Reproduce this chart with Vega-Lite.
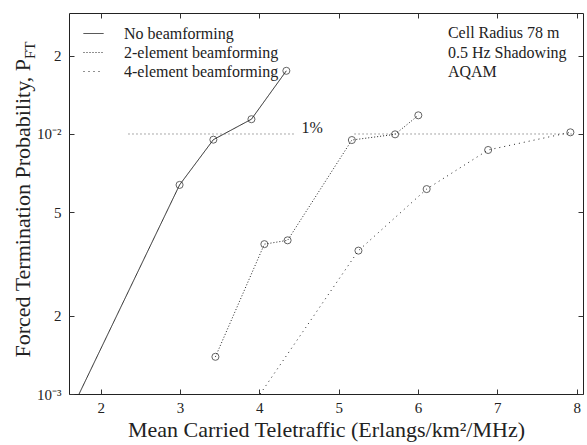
{
  "$schema": "https://vega.github.io/schema/vega-lite/v6.json",
  "width": 514,
  "height": 381,
  "autosize": {"type": "none"},
  "padding": {"left": 69, "top": 13, "right": 4, "bottom": 51},
  "background": "white",
  "config": {
    "font": "Liberation Serif",
    "view": {"stroke": "#222", "strokeWidth": 1},
    "axis": {
      "domain": false, "grid": false, "tickColor": "#333", "tickWidth": 1,
      "labelColor": "#222", "titleColor": "#222",
      "labelFont": "Liberation Serif", "titleFont": "Liberation Serif",
      "titleFontWeight": "normal", "labelFontSize": 15, "titleFontSize": 22
    }
  },
  "datasets": {
    "series": [
      {"s": "No beamforming", "x": 1.727, "y": 0.001, "m": 0},
      {"s": "No beamforming", "x": 2.994, "y": 0.00637, "m": 1},
      {"s": "No beamforming", "x": 3.42, "y": 0.00951, "m": 1},
      {"s": "No beamforming", "x": 3.90, "y": 0.0114, "m": 1},
      {"s": "No beamforming", "x": 4.34, "y": 0.0175, "m": 1},
      {"s": "2-element beamforming", "x": 3.446, "y": 0.00139, "m": 1},
      {"s": "2-element beamforming", "x": 4.063, "y": 0.00377, "m": 1},
      {"s": "2-element beamforming", "x": 4.356, "y": 0.0039, "m": 1},
      {"s": "2-element beamforming", "x": 5.166, "y": 0.00948, "m": 1},
      {"s": "2-element beamforming", "x": 5.711, "y": 0.00997, "m": 1},
      {"s": "2-element beamforming", "x": 6.004, "y": 0.0118, "m": 1},
      {"s": "4-element beamforming", "x": 4.01, "y": 0.001, "m": 0},
      {"s": "4-element beamforming", "x": 5.249, "y": 0.00356, "m": 1},
      {"s": "4-element beamforming", "x": 6.109, "y": 0.00614, "m": 1},
      {"s": "4-element beamforming", "x": 6.884, "y": 0.00868, "m": 1},
      {"s": "4-element beamforming", "x": 7.921, "y": 0.01015, "m": 1}
    ],
    "onepct": [
      {"x1": 2.35, "x2": 4.45, "y": 0.01},
      {"x1": 5.2, "x2": 7.95, "y": 0.01}
    ]
  },
  "layer": [
    {
      "data": {"name": "onepct"},
      "mark": {"type": "rule", "color": "#555", "strokeWidth": 1, "strokeDash": [1, 3]},
      "encoding": {
        "x": {"field": "x1", "type": "quantitative", "scale": {"domain": [1.6, 8.08], "nice": false, "zero": false}, "axis": null},
        "x2": {"field": "x2"},
        "y": {"field": "y", "type": "quantitative", "scale": {"type": "log", "domain": [0.001, 0.0292], "nice": false}, "axis": null}
      }
    },
    {
      "data": {"name": "series"},
      "mark": {"type": "line", "color": "#222", "strokeWidth": 1},
      "encoding": {
        "x": {
          "field": "x", "type": "quantitative",
          "axis": {
            "orient": "bottom", "values": [2, 3, 4, 5, 6, 7, 8], "format": "d",
            "offset": -5, "tickSize": 5, "labelPadding": 6,
            "title": "Mean Carried Teletraffic (Erlangs/km²/MHz)",
            "titleBaseline": "middle", "titleY": 40
          }
        },
        "y": {
          "field": "y", "type": "quantitative",
          "axis": {
            "orient": "left", "values": [0.001, 0.002, 0.005, 0.01, 0.02],
            "labelExpr": "datum.value < 0.0015 ? '10⁻³' : datum.value < 0.003 ? '2' : datum.value < 0.007 ? '5' : datum.value < 0.015 ? '10⁻²' : '2'",
            "offset": -5, "tickSize": 5, "labelPadding": 8,
            "title": "Forced Termination Probability, P",
            "titleAngle": 270, "titleAlign": "left", "titleBaseline": "middle",
            "titleX": -52, "titleY": 344
          }
        },
        "strokeDash": {
          "field": "s", "type": "nominal",
          "scale": {"domain": ["No beamforming", "2-element beamforming", "4-element beamforming"], "range": [[1, 0], [1, 2], [1, 4]]},
          "legend": {
            "title": null, "orient": "none", "legendX": 14, "legendY": 10,
            "symbolType": "stroke", "symbolSize": 400, "symbolStrokeWidth": 1, "symbolStrokeColor": "#222",
            "labelFont": "Liberation Serif", "labelFontSize": 16, "labelColor": "#222",
            "labelOffset": 20, "rowPadding": 0, "padding": 0
          }
        }
      }
    },
    {
      "data": {"name": "series"},
      "transform": [{"filter": "datum.m == 1"}],
      "mark": {"type": "point", "shape": "circle", "size": 50, "filled": false, "stroke": "#222", "strokeWidth": 1},
      "encoding": {
        "x": {"field": "x", "type": "quantitative", "axis": null},
        "y": {"field": "y", "type": "quantitative", "axis": null}
      }
    },
    {
      "data": {"name": "series"},
      "mark": {"type": "point", "opacity": 0},
      "encoding": {
        "x": {"field": "x", "type": "quantitative", "axis": {"orient": "top", "values": [2, 3, 4, 5, 6, 7, 8], "labels": false, "offset": -5, "tickSize": 5, "title": null}},
        "y": {"field": "y", "type": "quantitative", "axis": {"orient": "right", "values": [0.001, 0.002, 0.005, 0.01, 0.02], "labels": false, "offset": -5, "tickSize": 5, "title": null}}
      }
    },
    {
      "data": {"values": [{}]},
      "mark": {"type": "text", "align": "left", "baseline": "middle", "font": "Liberation Serif", "fontSize": 16, "color": "#222", "lineHeight": 19.5},
      "encoding": {
        "x": {"datum": 6.377, "type": "quantitative", "axis": null},
        "y": {"datum": 0.02446, "type": "quantitative", "axis": null},
        "text": {"value": ["Cell Radius 78 m", "0.5 Hz Shadowing", "AQAM"]}
      }
    },
    {
      "data": {"values": [{}]},
      "mark": {"type": "text", "align": "center", "baseline": "middle", "font": "Liberation Serif", "fontSize": 16, "color": "#222"},
      "encoding": {
        "x": {"datum": 4.667, "type": "quantitative", "axis": null},
        "y": {"datum": 0.01055, "type": "quantitative", "axis": null},
        "text": {"value": "1%"}
      }
    },
    {
      "data": {"values": [{}]},
      "mark": {"type": "text", "align": "left", "baseline": "middle", "angle": 270, "font": "Liberation Serif", "fontSize": 15, "color": "#222"},
      "encoding": {
        "x": {"datum": 1.105, "type": "quantitative", "axis": null},
        "y": {"datum": 0.01943, "type": "quantitative", "axis": null},
        "text": {"value": "FT"}
      }
    }
  ],
  "resolve": {"axis": {"x": "independent", "y": "independent"}}
}
